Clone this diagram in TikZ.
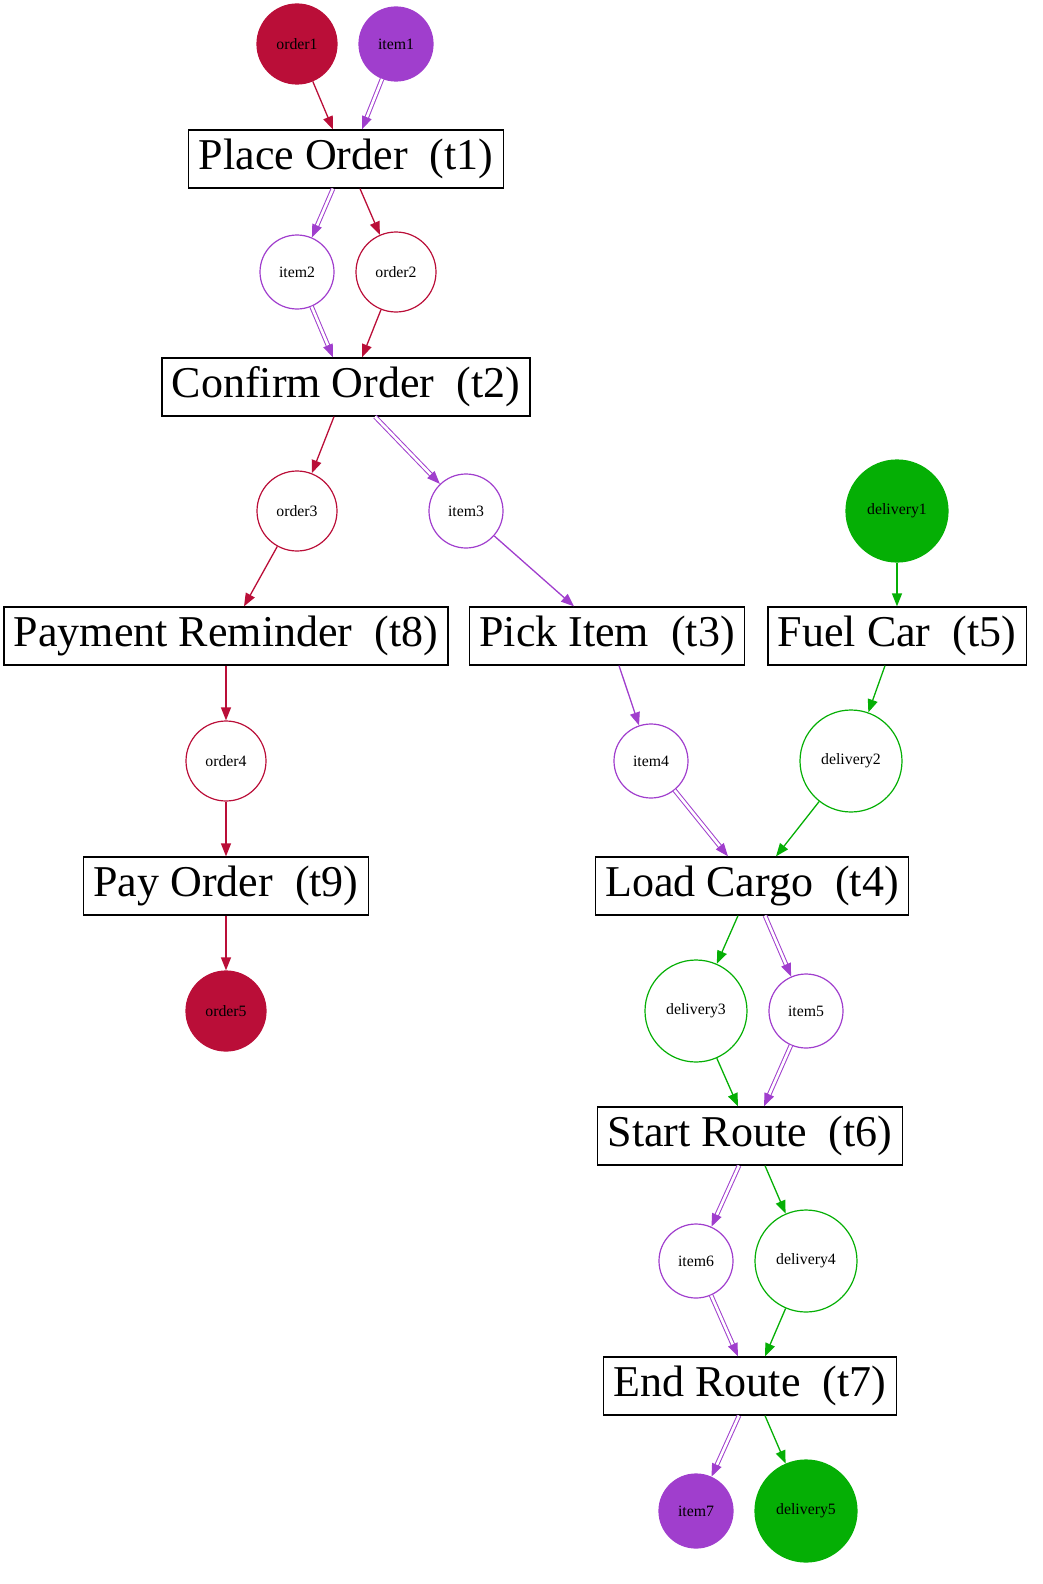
\documentclass[tikz,border=0pt]{standalone}
\usepackage{fontspec}
\setmainfont{Liberation Serif}
\usepackage{tikz}
\usetikzlibrary{arrows.meta, decorations.markings}
\definecolor{ordercol}{RGB}{186,14,56}
\definecolor{itemcol}{RGB}{160,62,205}
\definecolor{delivcol}{RGB}{5,175,5}

\begin{document}
\begin{tikzpicture}[x=0.5pt, y=-0.5pt,
    trans/.style={rectangle, draw, line width=0.65pt, minimum height=29pt, inner xsep=5pt, font=\fontsize{22}{26}\selectfont},
    place/.style={circle, draw, line width=0.6pt, inner sep=0pt, font=\fontsize{7.9}{9}\selectfont},
    order/.style={place, draw=ordercol, minimum size=40pt},
    item/.style={place, draw=itemcol, minimum size=37pt},
    deliv/.style={place, draw=delivcol, minimum size=51pt},
    orderarc/.style={draw=ordercol, line width=0.65pt, -{Triangle[length=6.5pt,width=5pt]}},
    itemarc/.style={draw=itemcol, line width=0.65pt, -{Triangle[length=6.5pt,width=5pt]}},
    itemdbl/.style={draw=itemcol, double=white, double distance=1.3pt, line width=0.5pt, shorten >=4pt,
        postaction={decorate, decoration={markings, mark=at position 1 with {\arrow[itemcol, line width=0.65pt]{Triangle[length=6.5pt,width=5pt]}}}}},
    delivarc/.style={draw=delivcol, line width=0.65pt, -{Triangle[length=6.5pt,width=5pt]}}]
    \useasboundingbox (0,0) rectangle (1043,1584);
    % Transitions
    \node[trans] (t1) at (346,159) {Place Order~~(t1)};
    \node[trans] (t2) at (346,387) {Confirm Order~~(t2)};
    \node[trans] (t8) at (226,636) {Payment Reminder~~(t8)};
    \node[trans] (t3) at (607,636) {Pick Item~~(t3)};
    \node[trans] (t5) at (897,636) {Fuel Car~~(t5)};
    \node[trans] (t9) at (226,886) {Pay Order~~(t9)};
    \node[trans] (t4) at (752,886) {Load Cargo~~(t4)};
    \node[trans] (t6) at (750,1136) {Start Route~~(t6)};
    \node[trans] (t7) at (750,1386) {End Route~~(t7)};
    % Places: order
    \node[order, fill=ordercol] (order1) at (297,44) {order1};
    \node[order] (order2) at (396,272) {order2};
    \node[order] (order3) at (297,511) {order3};
    \node[order] (order4) at (226,761) {order4};
    \node[order, fill=ordercol] (order5) at (226,1011) {order5};
    % Places: item
    \node[item, fill=itemcol] (item1) at (396,44) {item1};
    \node[item] (item2) at (297,272) {item2};
    \node[item] (item3) at (466,511) {item3};
    \node[item] (item4) at (651,761) {item4};
    \node[item] (item5) at (806,1011) {item5};
    \node[item] (item6) at (696,1261) {item6};
    \node[item, fill=itemcol] (item7) at (696,1511) {item7};
    % Places: delivery
    \node[deliv, fill=delivcol] (delivery1) at (897,511) {delivery1};
    \node[deliv] (delivery2) at (851,761) {delivery2};
    \node[deliv] (delivery3) at (696,1011) {delivery3};
    \node[deliv] (delivery4) at (806,1261) {delivery4};
    \node[deliv, fill=delivcol] (delivery5) at (806,1511) {delivery5};
    % Arcs
    \draw[orderarc] (order1) -- ([xshift=-6.5pt]t1.north);
    \draw[itemdbl] (item1) -- ([xshift=8pt]t1.north);
    \draw[itemdbl] ([xshift=-6.5pt]t1.south) -- (item2);
    \draw[orderarc] ([xshift=7pt]t1.south) -- (order2);
    \draw[itemdbl] (item2) -- ([xshift=-6.5pt]t2.north);
    \draw[orderarc] (order2) -- ([xshift=8pt]t2.north);
    \draw[orderarc] ([xshift=-6pt]t2.south) -- (order3);
    \draw[itemdbl] ([xshift=14.5pt]t2.south) -- (item3);
    \draw[orderarc] (order3) -- ([xshift=9pt]t8.north);
    \draw[itemarc] (item3) -- ([xshift=-16.5pt]t3.north);
    \draw[delivarc] (delivery1) -- (t5);
    \draw[orderarc] (t8) -- (order4);
    \draw[itemarc] ([xshift=6pt]t3.south) -- (item4);
    \draw[delivarc] ([xshift=-6pt]t5.south) -- (delivery2);
    \draw[orderarc] (order4) -- (t9);
    \draw[orderarc] (t9) -- (order5);
    \draw[itemdbl] (item4) -- ([xshift=-12pt]t4.north);
    \draw[delivarc] (delivery2) -- ([xshift=12pt]t4.north);
    \draw[delivarc] ([xshift=-7pt]t4.south) -- (delivery3);
    \draw[itemdbl] ([xshift=6.5pt]t4.south) -- (item5);
    \draw[delivarc] (delivery3) -- ([xshift=-6pt]t6.north);
    \draw[itemdbl] (item5) -- ([xshift=7pt]t6.north);
    \draw[itemdbl] ([xshift=-5.5pt]t6.south) -- (item6);
    \draw[delivarc] ([xshift=7.5pt]t6.south) -- (delivery4);
    \draw[itemdbl] (item6) -- ([xshift=-6pt]t7.north);
    \draw[delivarc] (delivery4) -- ([xshift=7.5pt]t7.north);
    \draw[itemdbl] ([xshift=-5.5pt]t7.south) -- (item7);
    \draw[delivarc] ([xshift=7.5pt]t7.south) -- (delivery5);
\end{tikzpicture}
\end{document}
